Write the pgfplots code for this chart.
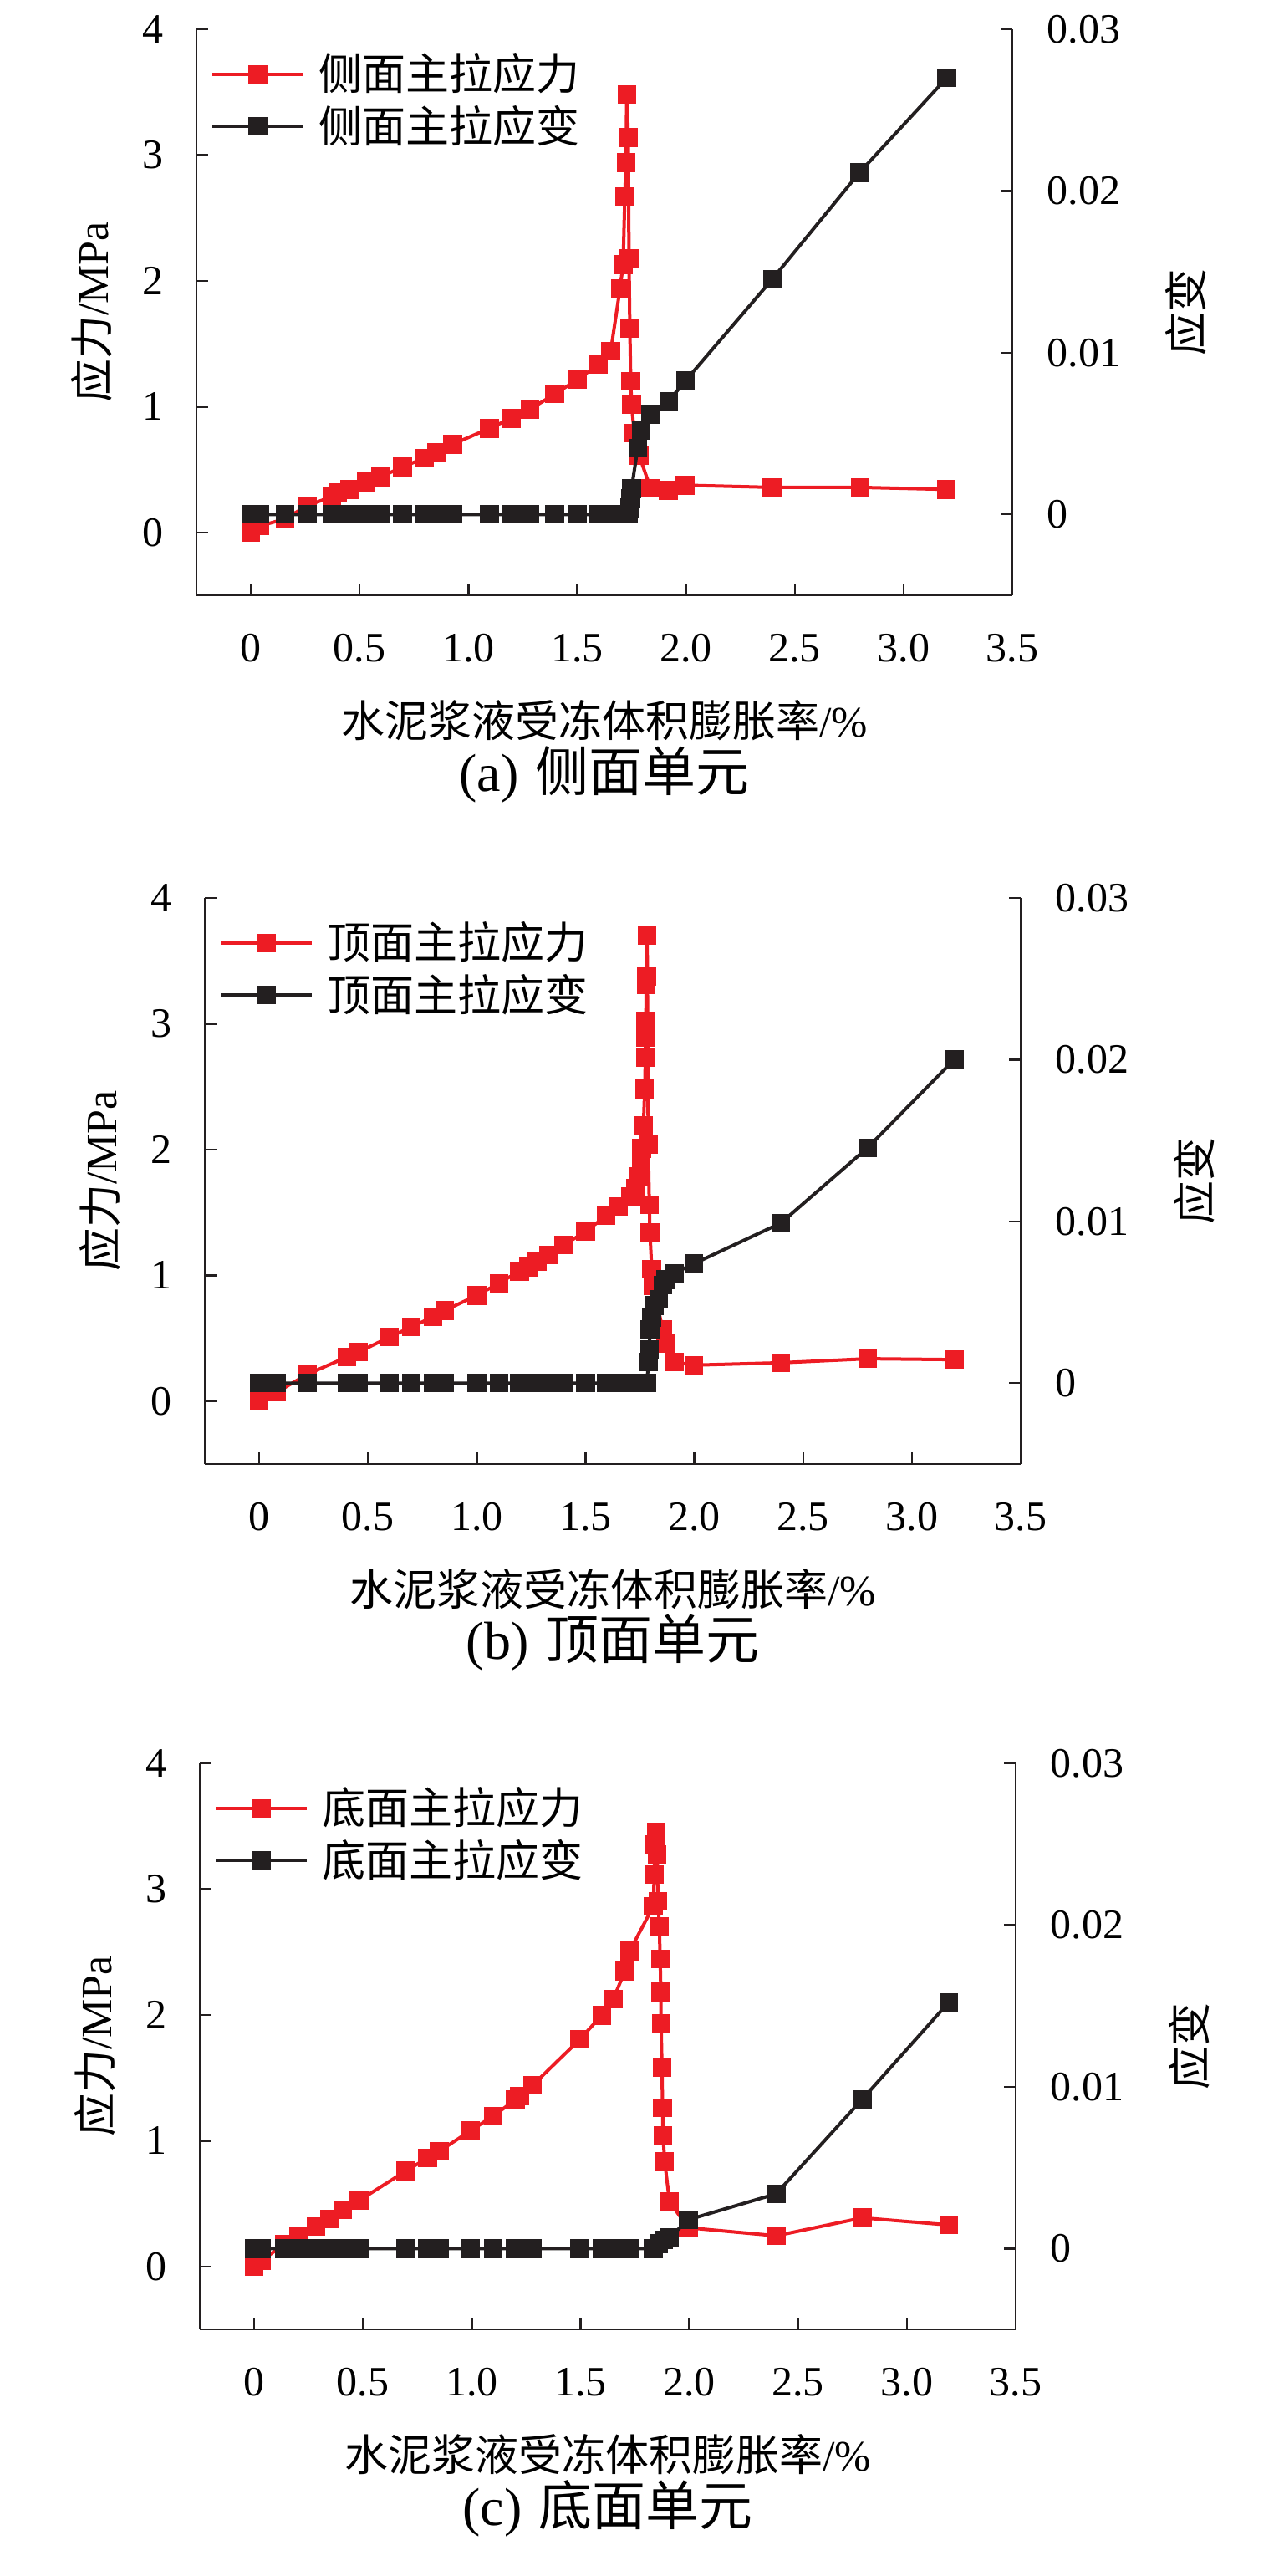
\documentclass[border=0pt]{standalone}
\usepackage{fontspec}
\setmainfont{Liberation Serif}
\newfontfamily\cjk{Noto Sans CJK SC}
\usepackage{pgfplots}
\pgfplotsset{compat=1.18}

\definecolor{cred}{RGB}{237,28,36}
\definecolor{cblack}{RGB}{35,31,32}

\pgfplotsset{
  panel/.style={
    scale only axis, width=244pt, height=169.25pt,
    anchor=south west,
    xmin=-0.25, xmax=3.5,
    tick align=inside, major tick length=3.5pt,
    axis line style={-, line width=0.6pt, cblack},
    every tick/.style={line width=0.6pt, cblack},
    tick label style={font=\fontsize{12.5}{14}\selectfont},
    label style={font=\fontsize{13}{15}\selectfont},
    scaled ticks=false,
    clip=false,
  },
  leftax/.style={panel,
    axis x line*=bottom, axis y line*=left,
    xtick pos=left, ytick pos=left,
    xtick={0,0.5,1,1.5,2,2.5,3,3.5},
    xticklabels={0,0.5,1.0,1.5,2.0,2.5,3.0,3.5},
    ymin=-0.5, ymax=4, ytick={0,1,2,3,4}, yticklabels={0,1,2,3,4},
    xticklabel style={anchor=center, yshift=-15.75pt},
    yticklabel style={anchor=east, inner sep=0pt, xshift=-9.75pt},
    xlabel style={at={(axis description cs:0.5,-0.221)}, anchor=center},
    ylabel style={at={(axis description cs:-0.128,0.5)}, anchor=center},
    title style={at={(axis description cs:0.5,-0.3516)}, anchor=center,
      font=\fontsize{16}{18}\selectfont},
    xlabel={{\cjk 水泥浆液受冻体积膨胀率}/\%},
    ylabel={{\cjk 应力}/MPa},
  },
  rightax/.style={panel,
    axis x line=none, axis y line*=right,
    xtick=\empty, ytick pos=right, yticklabel pos=right,
    ymin=-0.005, ymax=0.03, ytick={0,0.01,0.02,0.03},
    yticklabels={0,0.01,0.02,0.03},
    yticklabel style={anchor=west, inner sep=0pt, xshift=10.25pt},
    ylabel style={at={(axis description cs:1.213,0.5)}, anchor=center},
    ylabel={\cjk 应变},
    legend style={draw=none, fill=none, at={(axis description cs:0.017,0.9645)},
      anchor=north west, inner sep=0pt, row sep=1pt, column sep=3.25pt,
      font=\fontsize{13}{15}\selectfont, nodes={inner sep=1pt}},
    legend cell align=left,
    legend image code/.code={%
      \draw[mark repeat=2,mark phase=2,##1] plot coordinates {(0pt,0pt)(13.55pt,0pt)(27.1pt,0pt)};},
  },
  redline/.style={cred, line width=1pt, mark=square*, mark size=2.3pt,
    mark options={solid, fill=cred, draw=cred}},
  blackline/.style={cblack, line width=1pt, mark=square*, mark size=2.3pt,
    mark options={solid, fill=cblack, draw=cblack}},
}

\begin{document}
\begin{tikzpicture}
\useasboundingbox (-58.75pt,-592.25pt) rectangle (325pt,178pt);

% (a) side element
\begin{axis}[leftax, at={(0pt,0pt)}, title={(a)\hspace{5pt}{\cjk 侧面单元}}]
\addplot[redline] coordinates {
(0,0)(0.04,0.05)(0.157,0.107)(0.26,0.213)(0.373,0.284)(0.40,0.316)(0.454,0.342)
(0.53,0.40)(0.595,0.44)(0.697,0.52)(0.797,0.59)(0.854,0.633)(0.927,0.70)
(1.097,0.827)(1.197,0.907)(1.284,0.98)(1.397,1.10)(1.50,1.214)(1.597,1.334)
(1.654,1.44)(1.697,1.94)(1.711,2.13)(1.719,2.67)(1.724,2.94)(1.728,3.48)
(1.735,3.14)(1.738,2.18)(1.742,1.62)(1.746,1.20)(1.75,1.02)(1.762,0.79)
(1.785,0.61)(1.837,0.352)(1.919,0.333)(1.995,0.375)(2.395,0.358)(2.80,0.358)(3.197,0.342)};
\end{axis}
\begin{axis}[rightax, at={(0pt,0pt)}]
\addlegendimage{redline}
\addlegendentry{\cjk 侧面主拉应力}
\addplot[blackline] coordinates {
(0,0)(0.04,0)(0.157,0)(0.26,0)(0.373,0)(0.40,0)(0.454,0)(0.53,0)(0.595,0)
(0.697,0)(0.797,0)(0.854,0)(0.927,0)(1.097,0)(1.197,0)(1.284,0)(1.397,0)
(1.50,0)(1.597,0)(1.654,0)(1.697,0)(1.711,0)(1.724,0)(1.735,0)
(1.742,0.0004)(1.746,0.001)(1.75,0.0016)(1.778,0.0041)(1.795,0.0052)
(1.837,0.0062)(1.92,0.0070)(1.998,0.00827)(2.397,0.01455)(2.797,0.02113)(3.199,0.0270)};
\addlegendentry{\cjk 侧面主拉应变}
\end{axis}

% (b) top element
\begin{axis}[leftax, at={(2.5pt,-259.75pt)}, title={(b)\hspace{5pt}{\cjk 顶面单元}}]
\addplot[redline] coordinates {
(0,0)(0.08,0.07)(0.223,0.215)(0.403,0.35)(0.457,0.39)(0.60,0.51)(0.70,0.59)
(0.80,0.67)(0.852,0.72)(1.0,0.84)(1.102,0.937)(1.196,1.033)(1.237,1.065)
(1.277,1.113)(1.331,1.161)(1.398,1.24)(1.50,1.347)(1.594,1.473)(1.653,1.546)
(1.707,1.627)(1.728,1.69)(1.742,1.787)(1.755,1.915)(1.757,2.01)(1.766,2.19)
(1.772,2.48)(1.775,2.73)(1.776,2.89)(1.777,3.02)(1.779,3.31)(1.781,3.375)
(1.783,3.70)(1.788,2.04)(1.793,1.56)(1.796,1.34)(1.804,1.05)(1.81,0.92)
(1.855,0.568)(1.868,0.456)(1.909,0.31)(1.997,0.286)(2.398,0.305)(2.796,0.337)(3.194,0.33)};
\end{axis}
\begin{axis}[rightax, at={(2.5pt,-259.75pt)}]
\addlegendimage{redline}
\addlegendentry{\cjk 顶面主拉应力}
\addplot[blackline] coordinates {
(0,0)(0.08,0)(0.223,0)(0.403,0)(0.438,0)(0.457,0)(0.60,0)(0.70,0)(0.80,0)
(0.825,0)(0.852,0)(1.0,0)(1.102,0)(1.196,0)(1.237,0)(1.277,0)(1.331,0)
(1.398,0)(1.50,0)(1.594,0)(1.626,0)(1.653,0)(1.68,0)(1.707,0)(1.734,0)
(1.761,0)(1.783,0)(1.788,0.0013)(1.793,0.00205)(1.796,0.0033)(1.804,0.00405)
(1.815,0.0048)(1.836,0.00518)(1.855,0.00605)(1.868,0.0064)(1.909,0.0068)
(1.997,0.00738)(2.398,0.0099)(2.796,0.01455)(3.194,0.020)};
\addlegendentry{\cjk 顶面主拉应变}
\end{axis}

% (c) bottom element
\begin{axis}[leftax, at={(1pt,-518.5pt)}, title={(c)\hspace{5pt}{\cjk 底面单元}}]
\addplot[redline] coordinates {
(0,0)(0.035,0.048)(0.137,0.175)(0.205,0.238)(0.285,0.317)(0.347,0.378)
(0.407,0.45)(0.482,0.524)(0.697,0.759)(0.797,0.863)(0.851,0.917)(0.994,1.079)
(1.099,1.197)(1.20,1.324)(1.22,1.356)(1.28,1.441)(1.497,1.806)(1.597,1.997)
(1.65,2.124)(1.704,2.349)(1.726,2.508)(1.834,2.863)(1.839,3.117)(1.842,3.356)
(1.847,3.457)(1.852,3.276)(1.856,2.905)(1.862,2.705)(1.866,2.444)(1.869,2.181)
(1.870,1.933)(1.874,1.584)(1.877,1.26)(1.879,1.038)(1.887,0.832)(1.909,0.514)
(1.995,0.308)(2.399,0.244)(2.795,0.387)(3.193,0.33)};
\end{axis}
\begin{axis}[rightax, at={(1pt,-518.5pt)}]
\addlegendimage{redline}
\addlegendentry{\cjk 底面主拉应力}
\addplot[blackline] coordinates {
(0,0)(0.035,0)(0.137,0)(0.205,0)(0.285,0)(0.347,0)(0.407,0)(0.482,0)
(0.697,0)(0.797,0)(0.851,0)(0.994,0)(1.099,0)(1.20,0)(1.22,0)(1.28,0)
(1.497,0)(1.597,0)(1.62,0)(1.65,0)(1.68,0)(1.704,0)(1.726,0)(1.834,0)
(1.86,0.0003)(1.882,0.00054)(1.909,0.00067)(1.995,0.00178)(2.399,0.00338)
(2.795,0.00923)(3.193,0.01523)};
\addlegendentry{\cjk 底面主拉应变}
\end{axis}
\end{tikzpicture}
\end{document}
